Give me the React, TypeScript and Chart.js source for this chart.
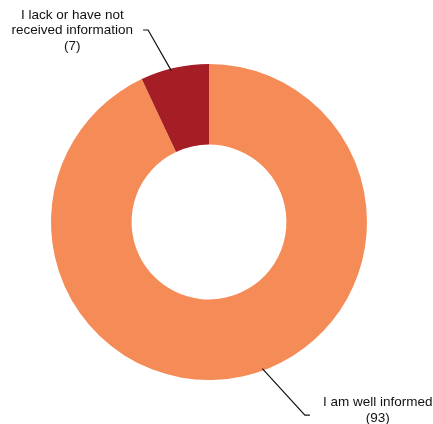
import React, { useEffect, useRef } from "react";
import { Chart, registerables } from "chart.js";

Chart.register(...registerables);

const categories = ["I am well informed", "I lack or have not received information"];
const labelLines = [["I am well informed", "(93)"], ["I lack or have not", "received information", "(7)"]];
const values = [93, 7];
const colors = ["#F58B56", "#A51D25"];

// per-label leader geometry (degrees relative to slice middle, radius multiples)
const leaderCfg = [
  { startShift: -7.4, elbowShift: -13.8, elbowR: 1.365, side: 1, textDy: -5 },
  { startShift: -1.4, elbowShift: -5.0, elbowR: 1.275, side: -1, textDy: 0.5 },
];

const labelPlugin = {
  id: "outLabels",
  afterDraw(chart: any) {
    const ctx = chart.ctx;
    const meta = chart.getDatasetMeta(0);
    ctx.save();
    ctx.font = "13.5px 'Liberation Sans', Arial, Helvetica, sans-serif";
    ctx.fillStyle = "#111";
    ctx.strokeStyle = "#111";
    ctx.lineWidth = 1.2;
    meta.data.forEach((arc: any, i: number) => {
      const { x, y, startAngle, endAngle, outerRadius } = arc.getProps(
        ["x", "y", "startAngle", "endAngle", "outerRadius"],
        true
      );
      const cfg = leaderCfg[i];
      const mid = (startAngle + endAngle) / 2;
      const a1 = mid + (cfg.startShift * Math.PI) / 180;
      const a2 = mid + (cfg.elbowShift * Math.PI) / 180;
      const sx = x + Math.cos(a1) * (outerRadius - 2);
      const sy = y + Math.sin(a1) * (outerRadius - 2);
      const ex = x + Math.cos(a2) * outerRadius * cfg.elbowR;
      const ey = y + Math.sin(a2) * outerRadius * cfg.elbowR;
      const tx = ex + cfg.side * 5;
      ctx.beginPath();
      ctx.moveTo(sx, sy);
      ctx.lineTo(ex, ey);
      ctx.lineTo(tx, ey);
      ctx.stroke();
      const lines = labelLines[i];
      const w = Math.max(...lines.map((l) => ctx.measureText(l).width));
      const lh = 15.5;
      const cx = cfg.side > 0 ? tx + 13 + w / 2 : tx - 10 - w / 2;
      const top = ey + cfg.textDy - (lh * lines.length) / 2 + lh / 2;
      ctx.textAlign = "center";
      ctx.textBaseline = "middle";
      lines.forEach((l, k) => ctx.fillText(l, cx, top + k * lh));
    });
    ctx.restore();
  },
};

export default function App() {
  const ref = useRef<HTMLCanvasElement>(null);
  useEffect(() => {
    const chart = new Chart(ref.current!, {
      type: "doughnut",
      data: {
        labels: categories,
        datasets: [
          {
            data: values,
            backgroundColor: colors,
            borderWidth: 0,
            hoverOffset: 0,
          },
        ],
      },
      options: {
        responsive: false,
        animation: false,
        cutout: "49%",
        layout: { padding: { left: 51, right: 66, top: 64, bottom: 44 } },
        plugins: { legend: { display: false }, tooltip: { enabled: false } },
      },
      plugins: [labelPlugin],
    });
    return () => chart.destroy();
  }, []);
  return (
    <div style={{ position: "fixed", left: 0, top: 0, width: 433, height: 424, background: "#fff" }}>
      <canvas ref={ref} width={433} height={424} style={{ width: 433, height: 424 }} />
    </div>
  );
}
